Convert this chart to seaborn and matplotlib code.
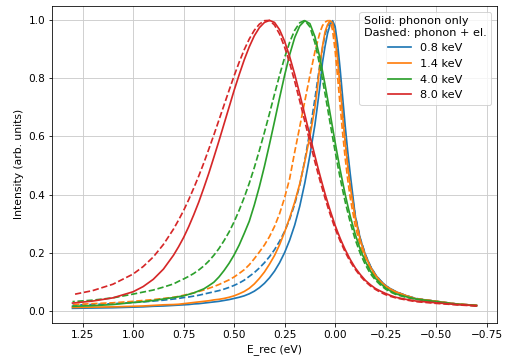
import matplotlib
matplotlib.use("Agg")
import matplotlib.pyplot as plt
import pandas as pd
import seaborn as sns
from matplotlib.lines import Line2D

# recoil energy grid (eV), denser around the peaks
e_rec = [1.30, 1.20, 1.10, 1.00, 0.95, 0.90, 0.85, 0.80,
         0.775, 0.75, 0.725, 0.70, 0.675, 0.65, 0.625, 0.60, 0.575, 0.55, 0.525, 0.50,
         0.475, 0.45, 0.425, 0.40, 0.375, 0.35, 0.325, 0.30, 0.275, 0.25, 0.225, 0.20,
         0.175, 0.15, 0.125, 0.10,
         0.0875, 0.075, 0.0625, 0.05, 0.0375, 0.025, 0.0125, 0.00, -0.0125, -0.025,
         -0.0375, -0.05, -0.0625, -0.075,
         -0.10, -0.125, -0.15, -0.175, -0.20, -0.225, -0.25, -0.275, -0.30,
         -0.35, -0.40, -0.50, -0.60, -0.70]

energies = ["0.8 keV", "1.4 keV", "4.0 keV", "8.0 keV"]
colors = ["#1f77b4", "#ff7f0e", "#2ca02c", "#d62728"]

# phonon only
ph_08 = [0.008, 0.009, 0.010, 0.012, 0.013, 0.015, 0.016, 0.018,
         0.019, 0.020, 0.021, 0.023, 0.024, 0.026, 0.028, 0.030, 0.032, 0.035, 0.038, 0.042,
         0.046, 0.051, 0.058, 0.067, 0.079, 0.094, 0.113, 0.136, 0.165, 0.200, 0.243, 0.295,
         0.360, 0.440, 0.535, 0.640,
         0.706, 0.775, 0.855, 0.910, 0.955, 0.985, 0.999, 0.979, 0.918, 0.831,
         0.733, 0.636, 0.548, 0.470,
         0.325, 0.246, 0.192, 0.152, 0.123, 0.103, 0.086, 0.075, 0.065,
         0.052, 0.041, 0.032, 0.023, 0.018]
ph_14 = [0.011, 0.012, 0.013, 0.015, 0.016, 0.018, 0.020, 0.021,
         0.022, 0.024, 0.026, 0.028, 0.030, 0.032, 0.034, 0.037, 0.039, 0.042, 0.046, 0.051,
         0.058, 0.066, 0.077, 0.092, 0.111, 0.133, 0.160, 0.190, 0.227, 0.271, 0.320, 0.374,
         0.437, 0.514, 0.600, 0.700,
         0.768, 0.850, 0.910, 0.960, 0.985, 0.999, 0.992, 0.944, 0.864, 0.769,
         0.670, 0.578, 0.497, 0.427,
         0.318, 0.242, 0.189, 0.150, 0.122, 0.101, 0.085, 0.074, 0.065,
         0.052, 0.041, 0.032, 0.023, 0.018]
ph_40 = [0.015, 0.017, 0.021, 0.028, 0.031, 0.035, 0.040, 0.045,
         0.048, 0.051, 0.056, 0.061, 0.068, 0.075, 0.086, 0.098, 0.116, 0.138, 0.163, 0.192,
         0.226, 0.266, 0.308, 0.364, 0.427, 0.497, 0.573, 0.652, 0.733, 0.811, 0.882, 0.941,
         0.981, 0.999, 0.989, 0.944,
         0.907, 0.870, 0.825, 0.779, 0.730, 0.680, 0.630, 0.580, 0.532, 0.485,
         0.442, 0.400, 0.362, 0.325,
         0.262, 0.210, 0.169, 0.136, 0.111, 0.093, 0.078, 0.067, 0.058,
         0.048, 0.040, 0.031, 0.022, 0.017]
ph_80 = [0.026, 0.033, 0.044, 0.065, 0.083, 0.108, 0.143, 0.191,
         0.220, 0.252, 0.289, 0.330, 0.374, 0.423, 0.474, 0.529, 0.585, 0.643, 0.701, 0.759,
         0.813, 0.864, 0.909, 0.947, 0.975, 0.993, 1.000, 0.993, 0.968, 0.928, 0.875, 0.814,
         0.746, 0.675, 0.603, 0.533,
         0.499, 0.466, 0.434, 0.403, 0.374, 0.346, 0.320, 0.294, 0.271, 0.249,
         0.229, 0.210, 0.193, 0.176,
         0.147, 0.124, 0.104, 0.089, 0.076, 0.067, 0.059, 0.052, 0.046,
         0.039, 0.033, 0.027, 0.021, 0.017]

# phonon + electronic
pe_08 = [0.019, 0.021, 0.024, 0.028, 0.030, 0.033, 0.036, 0.040,
         0.042, 0.045, 0.047, 0.050, 0.053, 0.057, 0.061, 0.065, 0.069, 0.074, 0.080, 0.087,
         0.095, 0.105, 0.118, 0.131, 0.147, 0.165, 0.186, 0.210, 0.239, 0.273, 0.315, 0.367,
         0.433, 0.518, 0.618, 0.730,
         0.790, 0.850, 0.905, 0.950, 0.980, 0.997, 0.997, 0.954, 0.878, 0.784,
         0.686, 0.593, 0.509, 0.437,
         0.326, 0.248, 0.193, 0.153, 0.124, 0.103, 0.086, 0.075, 0.066,
         0.052, 0.042, 0.032, 0.023, 0.018]
pe_14 = [0.021, 0.024, 0.027, 0.032, 0.035, 0.038, 0.042, 0.046,
         0.049, 0.053, 0.057, 0.061, 0.066, 0.071, 0.077, 0.083, 0.090, 0.098, 0.106, 0.116,
         0.128, 0.141, 0.158, 0.179, 0.202, 0.226, 0.255, 0.290, 0.334, 0.389, 0.455, 0.547,
         0.634, 0.722, 0.809, 0.892,
         0.926, 0.959, 0.982, 0.994, 0.999, 0.999, 0.966, 0.896, 0.804, 0.705,
         0.610, 0.525, 0.451, 0.388,
         0.291, 0.223, 0.175, 0.140, 0.115, 0.096, 0.081, 0.071, 0.063,
         0.050, 0.041, 0.032, 0.023, 0.018]
pe_40 = [0.031, 0.036, 0.044, 0.057, 0.064, 0.071, 0.081, 0.092,
         0.101, 0.109, 0.118, 0.128, 0.140, 0.154, 0.171, 0.191, 0.214, 0.241, 0.271, 0.306,
         0.346, 0.390, 0.439, 0.493, 0.552, 0.614, 0.679, 0.746, 0.811, 0.872, 0.925, 0.966,
         0.992, 1.000, 0.978, 0.923,
         0.884, 0.842, 0.796, 0.748, 0.698, 0.647, 0.598, 0.549, 0.502, 0.457,
         0.415, 0.375, 0.339, 0.304,
         0.244, 0.196, 0.158, 0.127, 0.105, 0.088, 0.074, 0.064, 0.056,
         0.046, 0.039, 0.030, 0.022, 0.017]
pe_80 = [0.055, 0.069, 0.091, 0.126, 0.152, 0.185, 0.228, 0.281,
         0.312, 0.345, 0.382, 0.422, 0.464, 0.509, 0.557, 0.606, 0.657, 0.708, 0.759, 0.809,
         0.856, 0.899, 0.936, 0.966, 0.987, 0.999, 1.000, 0.984, 0.953, 0.908, 0.853, 0.790,
         0.722, 0.652, 0.582, 0.513,
         0.480, 0.448, 0.418, 0.388, 0.360, 0.333, 0.308, 0.283, 0.261, 0.240,
         0.221, 0.202, 0.185, 0.169,
         0.142, 0.119, 0.100, 0.085, 0.073, 0.063, 0.055, 0.049, 0.044,
         0.037, 0.031, 0.025, 0.020, 0.016]

phonon = [ph_08, ph_14, ph_40, ph_80]
phonon_el = [pe_08, pe_14, pe_40, pe_80]

frames = []
for lab, a, b in zip(energies, phonon, phonon_el):
    frames.append(pd.DataFrame({"E_rec": e_rec, "intensity": a,
                                "energy": lab, "model": "phonon only"}))
    frames.append(pd.DataFrame({"E_rec": e_rec, "intensity": b,
                                "energy": lab, "model": "phonon + el."}))
df = pd.concat(frames, ignore_index=True)

plt.rcParams["font.size"] = 10.8

fig = plt.figure(figsize=(505 / 72, 358 / 72), dpi=72)
ax = fig.add_axes([0.1036, 0.0986, 0.88, 0.8846])

for lab, col in zip(energies, colors):
    for model, ls in (("phonon only", "-"), ("phonon + el.", "--")):
        sub = df[(df["energy"] == lab) & (df["model"] == model)]
        sns.lineplot(data=sub, x="E_rec", y="intensity", color=col,
                     linestyle=ls, linewidth=1.7, estimator=None,
                     legend=False, ax=ax)

ax.invert_xaxis()
ax.grid(True, color="#cccccc", linewidth=0.9)
ax.set_axisbelow(True)
ax.tick_params(labelsize=10.5)
ax.set_xlabel("E_rec (eV)")
ax.set_ylabel("Intensity (arb. units)")

handles = [Line2D([0], [0], color=c, linewidth=1.7) for c in colors]
ax.legend(handles, energies, title="Solid: phonon only\nDashed: phonon + el.",
          loc="upper right", fontsize=11.3, title_fontsize=11.3)

fig.savefig("out.png", dpi=72)
